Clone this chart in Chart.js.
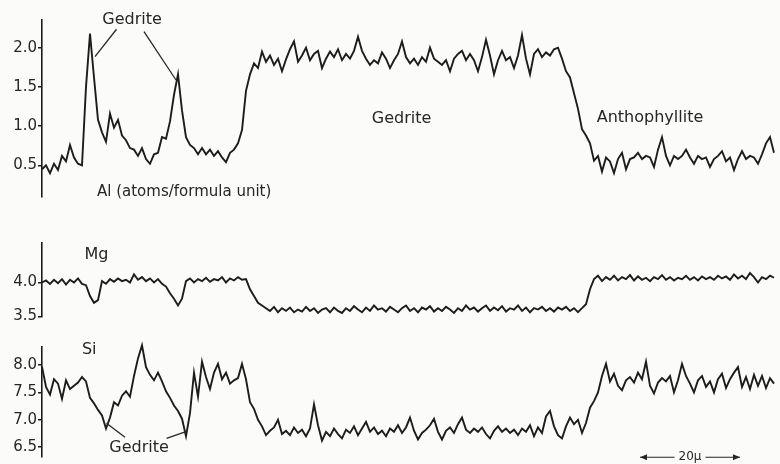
<!DOCTYPE html>
<html><head><meta charset="utf-8">
<script src="https://cdn.jsdelivr.net/npm/chart.js@4.4.1/dist/chart.umd.min.js"></script>
<style>
html,body{margin:0;padding:0;background:#fbfbf9;}
#wrap{position:relative;width:780px;height:464px;overflow:hidden;background:#fbfbf9;}
canvas{position:absolute;left:0;}
</style></head><body>
<div id="wrap">
<canvas id="cAl" width="780" height="210" style="top:0px;width:780px;height:210px"></canvas>
<canvas id="cMg" width="780" height="105" style="top:225px;width:780px;height:105px"></canvas>
<canvas id="cSi" width="780" height="134" style="top:330px;width:780px;height:134px"></canvas>
</div>
<script>
// Sampling step along the traverse (micrometres)
const STEP_UM = 0.8;

// Al (atoms / formula unit)
const alValues = [
0.45,0.50,0.40,0.52,0.44,0.62,0.55,0.76,0.60,0.52,
0.50,1.50,2.18,1.62,1.08,0.92,0.80,1.16,0.98,1.08,
0.88,0.82,0.72,0.70,0.62,0.72,0.58,0.52,0.64,0.66,
0.86,0.84,1.06,1.40,1.66,1.20,0.86,0.76,0.72,0.64,
0.72,0.64,0.70,0.62,0.68,0.60,0.54,0.66,0.70,0.78,
0.95,1.45,1.66,1.80,1.74,1.95,1.82,1.90,1.78,1.86,
1.70,1.85,1.98,2.08,1.82,1.90,2.00,1.84,1.92,1.96,
1.74,1.86,1.95,1.88,1.98,1.84,1.92,1.86,1.96,2.14,
1.96,1.86,1.78,1.84,1.80,1.94,1.86,1.74,1.84,1.92,
2.08,1.88,1.80,1.86,1.78,1.88,1.82,2.00,1.86,1.82,
1.78,1.84,1.70,1.86,1.92,1.96,1.84,1.92,1.84,1.70,
1.88,2.10,1.90,1.66,1.84,1.96,1.84,1.88,1.74,1.90,
2.16,1.86,1.66,1.92,1.98,1.88,1.94,1.90,1.98,2.00,
1.86,1.70,1.62,1.42,1.22,0.96,0.88,0.78,0.56,0.62,
0.42,0.60,0.55,0.40,0.58,0.66,0.45,0.58,0.60,0.66,
0.58,0.62,0.60,0.48,0.70,0.86,0.62,0.50,0.62,0.58,
0.62,0.70,0.60,0.52,0.62,0.58,0.60,0.48,0.58,0.62,
0.68,0.55,0.60,0.44,0.58,0.68,0.58,0.62,0.60,0.52,
0.64,0.78,0.86,0.66
];

// Mg (atoms / formula unit)
const mgValues = [
4.00,4.03,3.98,4.04,3.99,4.05,3.97,4.04,4.00,4.06,
3.98,3.96,3.80,3.70,3.74,4.02,3.98,4.05,4.01,4.06,
4.02,4.04,4.00,4.12,4.04,4.08,4.02,4.06,4.00,4.05,
3.98,3.94,3.84,3.76,3.66,3.76,4.02,4.06,4.00,4.05,
4.02,4.07,4.01,4.05,4.03,4.08,4.00,4.06,4.03,4.08,
4.04,4.05,3.90,3.80,3.70,3.66,3.62,3.58,3.64,3.56,
3.62,3.58,3.63,3.56,3.60,3.57,3.64,3.58,3.62,3.55,
3.60,3.62,3.56,3.63,3.58,3.55,3.62,3.58,3.65,3.60,
3.56,3.63,3.58,3.66,3.60,3.62,3.57,3.64,3.60,3.56,
3.62,3.66,3.58,3.62,3.56,3.63,3.60,3.65,3.57,3.62,
3.58,3.64,3.60,3.55,3.62,3.58,3.66,3.60,3.63,3.57,
3.62,3.66,3.58,3.63,3.59,3.65,3.57,3.62,3.60,3.66,
3.58,3.63,3.56,3.62,3.60,3.64,3.58,3.62,3.57,3.63,
3.60,3.64,3.58,3.62,3.56,3.62,3.68,3.90,4.05,4.10,
4.02,4.08,4.04,4.10,4.03,4.08,4.05,4.11,4.03,4.09,
4.04,4.07,4.02,4.08,4.05,4.11,4.04,4.08,4.03,4.07,
4.05,4.10,4.04,4.08,4.03,4.09,4.05,4.08,4.04,4.10,
4.06,4.09,4.04,4.12,4.06,4.10,4.05,4.14,4.08,4.00,
4.08,4.05,4.10,4.07
];

// Si (atoms / formula unit)
const siValues = [
7.97,7.60,7.46,7.74,7.66,7.38,7.72,7.56,7.62,7.68,
7.78,7.70,7.40,7.30,7.18,7.08,6.84,7.04,7.32,7.26,
7.44,7.52,7.42,7.80,8.12,8.36,7.96,7.82,7.72,7.86,
7.70,7.52,7.40,7.26,7.16,7.02,6.70,7.12,7.86,7.42,
8.06,7.78,7.56,7.86,8.02,7.74,7.86,7.66,7.72,7.76,
8.02,7.74,7.32,7.20,7.00,6.88,6.72,6.80,6.86,7.00,
6.74,6.80,6.72,6.86,6.76,6.82,6.70,6.84,7.28,6.90,
6.62,6.78,6.70,6.84,6.74,6.66,6.82,6.76,6.88,6.72,
6.84,6.96,6.78,6.86,6.74,6.80,6.70,6.84,6.78,6.90,
6.76,6.86,7.04,6.80,6.64,6.76,6.82,6.90,7.02,6.78,
6.64,6.80,6.86,6.76,6.92,7.04,6.82,6.76,6.84,6.78,
6.86,6.74,6.66,6.80,6.88,6.78,6.84,6.76,6.82,6.72,
6.84,6.78,6.90,6.70,6.86,6.76,7.06,7.16,6.88,6.72,
6.66,6.88,7.04,6.92,7.00,6.76,6.94,7.22,7.34,7.50,
7.80,8.02,7.70,7.84,7.62,7.54,7.72,7.78,7.68,7.86,
7.74,8.06,7.62,7.48,7.68,7.76,7.70,7.80,7.50,7.72,
8.02,7.80,7.66,7.50,7.72,7.80,7.60,7.70,7.50,7.74,
7.84,7.58,7.74,7.86,7.96,7.60,7.78,7.56,7.82,7.62,
7.80,7.58,7.76,7.66
];

// Distance along the traverse (µm), one per sample
const distanceUm = alValues.map((_, i) => +(i * STEP_UM).toFixed(1));

// Tick labels
const alTicks = [0.5, 1.0, 1.5, 2.0];
const mgTicks = [3.5, 4.0];
const siTicks = [6.5, 7.0, 7.5, 8.0];

const INK = '#1c1c1c';
const TEXT = '#262626';
const FONT = '16px "DejaVu Sans"';

const annotPlugin = {
  id: 'annot',
  afterDraw(chart, args, opts) {
    const { ctx } = chart;
    const xs = chart.scales.x, ys = chart.scales.y;
    const px = v => xs.getPixelForValue(v), py = v => ys.getPixelForValue(v);
    ctx.save();
    ctx.strokeStyle = TEXT; ctx.fillStyle = TEXT; ctx.lineWidth = 1.3;
    (opts.pointers || []).forEach(p => {
      ctx.beginPath(); ctx.moveTo(px(p[0]), py(p[1])); ctx.lineTo(px(p[2]), py(p[3])); ctx.stroke();
    });
    (opts.texts || []).forEach(t => {
      ctx.font = t.font || FONT;
      ctx.textAlign = t.align || 'center';
      ctx.textBaseline = 'middle';
      ctx.fillText(t.text, px(t.x), py(t.y));
    });
    const b = opts.scaleBar;
    if (b) {
      const x1 = px(b.from), x2 = px(b.to), y = py(b.y), xc = (x1 + x2) / 2;
      ctx.font = '12px "DejaVu Sans"';
      ctx.textAlign = 'center'; ctx.textBaseline = 'middle';
      const w = ctx.measureText(b.text).width;
      ctx.fillText(b.text, xc, y);
      ctx.lineWidth = 1.2;
      ctx.beginPath();
      ctx.moveTo(x1, y); ctx.lineTo(xc - w / 2 - 4, y);
      ctx.moveTo(xc + w / 2 + 4, y); ctx.lineTo(x2, y);
      ctx.stroke();
      ctx.beginPath();
      ctx.moveTo(x1, y); ctx.lineTo(x1 + 7, y - 3); ctx.lineTo(x1 + 7, y + 3); ctx.closePath();
      ctx.moveTo(x2, y); ctx.lineTo(x2 - 7, y - 3); ctx.lineTo(x2 - 7, y + 3); ctx.closePath();
      ctx.fill();
    }
    ctx.restore();
  }
};

function makeChart(id, values, ticks, yMin, yMax, padTop, padBottom, annot) {
  return new Chart(document.getElementById(id), {
    type: 'line',
    data: {
      labels: distanceUm,
      datasets: [{
        data: distanceUm.map((d, i) => ({ x: d, y: values[i] })),
        borderColor: INK, borderWidth: 1.9, pointRadius: 0, tension: 0, clip: false, fill: false
      }]
    },
    options: {
      responsive: false, animation: false, devicePixelRatio: 1,
      layout: { padding: { left: 0, right: 6, top: padTop, bottom: padBottom } },
      plugins: { legend: { display: false }, tooltip: { enabled: false }, annot },
      scales: {
        x: { type: 'linear', min: distanceUm[0], max: distanceUm[distanceUm.length - 1], display: false },
        y: {
          min: yMin, max: yMax,
          afterFit: s => { s.width = 42; s.paddingTop = 0; s.paddingBottom = 0; },
          afterBuildTicks: s => { s.ticks = ticks.map(v => ({ value: v })); },
          grid: { drawOnChartArea: false, drawTicks: true, tickLength: 4, color: INK, lineWidth: 1.5 },
          border: { display: true, color: INK, width: 1.6 },
          ticks: { color: TEXT, padding: 1, font: { family: 'DejaVu Sans', size: 15 }, callback: v => Number(v).toFixed(1) }
        }
      }
    },
    plugins: [annotPlugin]
  });
}

makeChart('cAl', alValues, alTicks, 0.096, 2.353, 20, 13, {
  texts: [
    { text: 'Gedrite', x: 18.0, y: 2.353 },
    { text: 'Gedrite', x: 71.9, y: 1.087 },
    { text: 'Anthophyllite', x: 121.6, y: 1.103 },
    { text: 'Al (atoms/formula unit)', x: 11.0, y: 0.16, align: 'left', font: '15px "DejaVu Sans"' }
  ],
  pointers: [[14.9, 2.235, 10.6, 1.885], [20.4, 2.204, 26.8, 1.588]]
});

makeChart('cMg', mgValues, mgTicks, 3.49, 4.584, 18, 13, {
  texts: [{ text: 'Mg', x: 10.9, y: 4.415 }]
});

makeChart('cSi', siValues, siTicks, 6.321, 8.328, 17, 7, {
  texts: [
    { text: 'Si', x: 9.44, y: 8.274 },
    { text: 'Gedrite', x: 19.4, y: 6.485 }
  ],
  pointers: [[16.6, 6.68, 12.9, 6.936], [24.9, 6.662, 28.8, 6.783]],
  scaleBar: { from: 119.6, to: 139.6, y: 6.316, text: '20μ' }
});
</script>
</body></html>
